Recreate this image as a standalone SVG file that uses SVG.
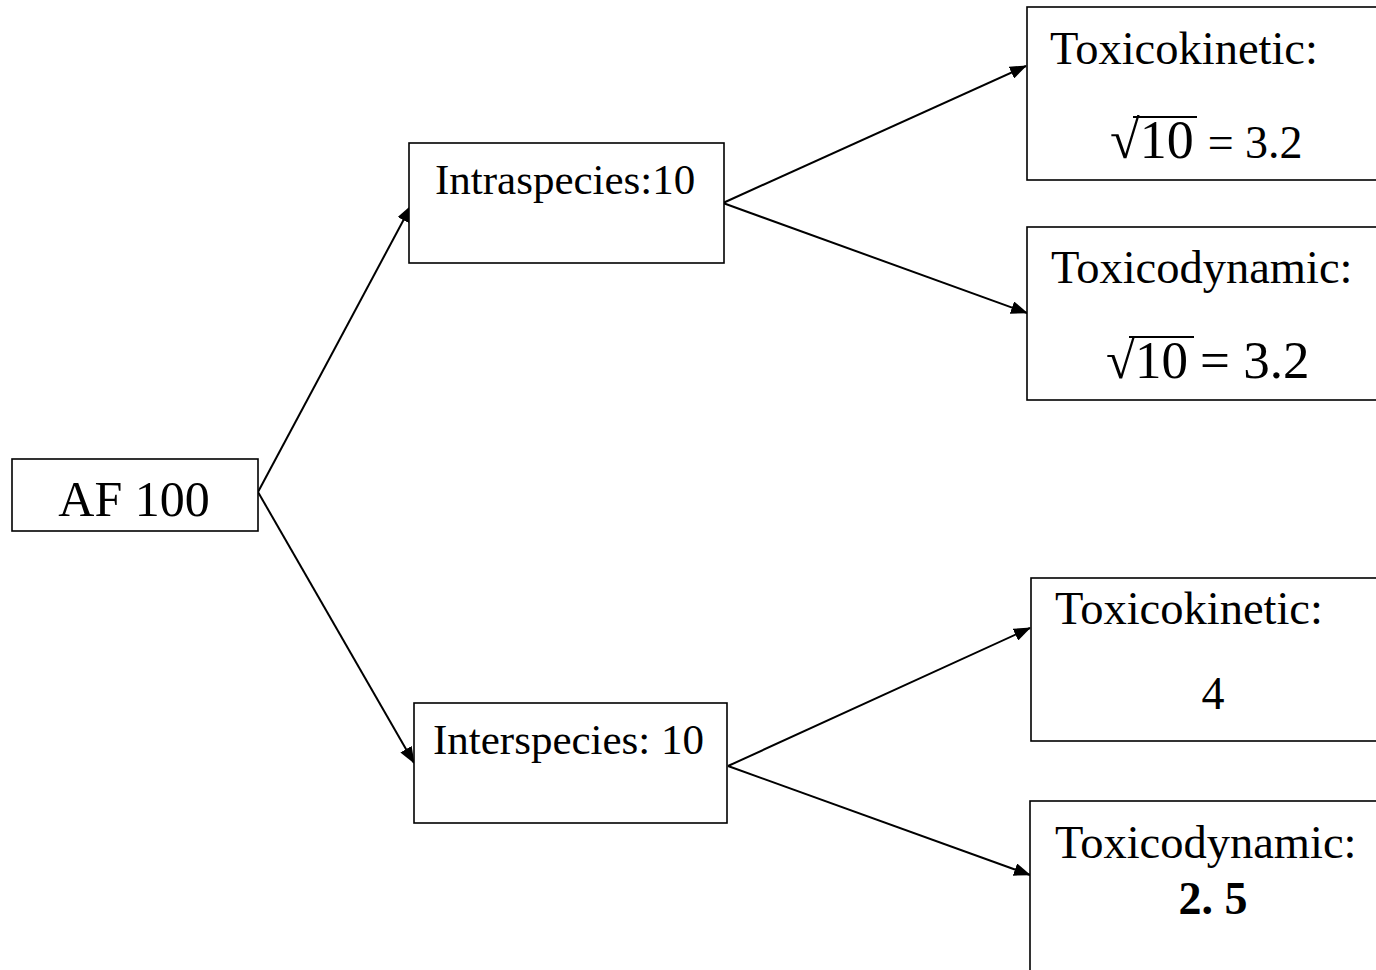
<svg xmlns="http://www.w3.org/2000/svg" width="1376" height="970" viewBox="0 0 1376 970">
<style>
.box{fill:#fff;stroke:#000;stroke-width:1.6}
.t{font-family:"Liberation Serif","Times New Roman",serif;fill:#000}
.c{stroke:#000;stroke-width:2;fill:none}
</style>
<defs>
<marker id="ah" markerWidth="17" markerHeight="13" refX="16" refY="6.5" orient="auto" markerUnits="userSpaceOnUse">
<path d="M0,0 L17,6.5 L0,13 Z" fill="#000"/>
</marker>
</defs>
<rect width="1376" height="970" fill="#fff"/>
<g id="connectors">
<line class="c" x1="258" y1="492" x2="411" y2="206" marker-end="url(#ah)"/>
<line class="c" x1="258" y1="492" x2="414" y2="763" marker-end="url(#ah)"/>
<line class="c" x1="723" y1="203" x2="1026" y2="66" marker-end="url(#ah)"/>
<line class="c" x1="723" y1="203" x2="1027" y2="313" marker-end="url(#ah)"/>
<line class="c" x1="728" y1="766" x2="1030" y2="628" marker-end="url(#ah)"/>
<line class="c" x1="728" y1="766" x2="1030" y2="875" marker-end="url(#ah)"/>
</g>
<g id="af100">
<rect class="box" x="12" y="459" width="246" height="72"/>
<text class="t" x="134" y="516" font-size="50" text-anchor="middle">AF 100</text>
</g>
<g id="intraspecies">
<rect class="box" x="409" y="143" width="315" height="120"/>
<text class="t" x="435" y="194" font-size="43">Intraspecies:10</text>
</g>
<g id="interspecies">
<rect class="box" x="414" y="703" width="313" height="120"/>
<text class="t" x="433" y="754" font-size="43">Interspecies: 10</text>
</g>
<g id="toxicokinetic-intra">
<rect class="box" x="1027" y="7" width="360" height="173"/>
<text class="t" x="1050" y="64" font-size="46.5">Toxicokinetic:</text>
<text class="t" x="1110" y="158" font-size="54">√<tspan>10</tspan><tspan font-size="46" dx="14">= 3.2</tspan></text>
<line x1="1133" y1="117" x2="1197" y2="117" stroke="#000" stroke-width="2"/>
</g>
<g id="toxicodynamic-intra">
<rect class="box" x="1027" y="227" width="360" height="173"/>
<text class="t" x="1051" y="283" font-size="46.5">Toxicodynamic:</text>
<text class="t" x="1106" y="378" font-size="53">√<tspan>10</tspan><tspan dx="12">= 3.2</tspan></text>
<line x1="1129" y1="337" x2="1194" y2="337" stroke="#000" stroke-width="2"/>
</g>
<g id="toxicokinetic-inter">
<rect class="box" x="1031" y="578" width="360" height="163"/>
<text class="t" x="1055" y="624" font-size="46.5">Toxicokinetic:</text>
<text class="t" x="1213" y="709" font-size="46" text-anchor="middle">4</text>
</g>
<g id="toxicodynamic-inter">
<rect class="box" x="1030" y="801" width="360" height="200"/>
<text class="t" x="1055" y="858" font-size="46.5">Toxicodynamic:</text>
<text class="t" x="1213" y="914" font-size="46" font-weight="bold" text-anchor="middle">2. 5</text>
</g>
</svg>
